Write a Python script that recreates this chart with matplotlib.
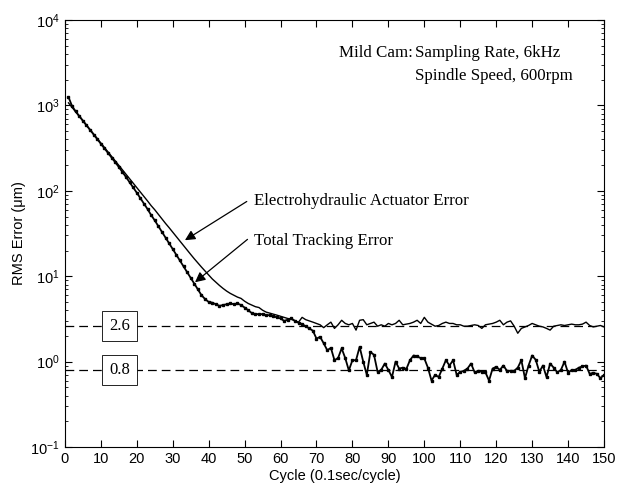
import matplotlib
matplotlib.use("Agg")
import matplotlib.pyplot as plt
import numpy as np

plt.rcParams['font.family'] = 'Liberation Sans'
plt.rcParams['mathtext.fontset'] = 'custom'
plt.rcParams['mathtext.rm'] = 'Liberation Sans'
plt.rcParams['mathtext.it'] = 'Liberation Sans:italic'
plt.rcParams['mathtext.bf'] = 'Liberation Sans:bold'

# cycle numbers 1..150
cycles = list(range(1, 151))

# thin line: electrohydraulic actuator error (um)
actuator_err = [
    1070, 950, 840, 745, 660, 585, 520, 460, 410, 363,
    322, 285, 253, 224, 199, 176, 156, 139, 123, 109,
    97, 86, 76, 67, 60, 53, 47, 41.5, 37, 32.8,
    29, 25.8, 22.8, 20.2, 18, 16, 14.3, 12.8, 11.5, 10.3,
    9.3, 8.5, 7.8, 7.2, 6.7, 6.3, 6.0, 5.7, 5.5, 5.1,
    4.8, 4.6, 4.4, 4.3, 4.0, 3.8, 3.7, 3.6, 3.5, 3.4,
    3.3, 3.2, 3.15, 3.0, 2.9, 3.3, 3.1, 3.0, 2.9, 2.8,
    2.7, 2.5, 2.7, 2.9, 2.45, 2.7, 3.05, 2.8, 2.7, 2.8,
    2.34, 3.05, 3.1, 2.7, 2.8, 2.9, 2.6, 2.7, 2.6, 2.8,
    2.7, 2.8, 3.05, 2.7, 2.75, 2.8, 2.9, 3.05, 2.8, 3.3,
    2.9, 2.75, 2.6, 2.65, 2.8, 2.9, 2.8, 2.8, 2.7, 2.7,
    2.6, 2.6, 2.65, 2.7, 2.65, 2.45, 2.7, 2.75, 2.8, 2.9,
    3.05, 2.7, 2.9, 3.0, 2.6, 2.15, 2.45, 2.55, 2.65, 2.8,
    2.7, 2.6, 2.55, 2.45, 2.34, 2.6, 2.65, 2.7, 2.65, 2.7,
    2.75, 2.7, 2.7, 2.75, 2.9, 2.65, 2.55, 2.6, 2.65, 2.55,
]

# thick line with markers: total tracking error (um)
total_err = [
    1250, 980, 850, 750, 660, 585, 515, 455, 403, 356,
    315, 278, 245, 216, 190, 166, 145, 126, 110, 95,
    82, 71, 61, 52, 45, 38.5, 33, 28.3, 24.3, 20.8,
    17.8, 15.3, 13.1, 11.2, 9.6, 8.2, 7.0, 6.0, 5.4, 5.0,
    4.9, 4.7, 4.5, 4.6, 4.7, 4.8, 4.7, 4.8, 4.6, 4.3,
    4.0, 3.7, 3.6, 3.6, 3.6, 3.5, 3.5, 3.4, 3.3, 3.2,
    3.0, 3.1, 3.2, 3.0, 2.85, 2.75, 2.6, 2.45, 2.3, 1.86,
    1.95, 1.64, 1.36, 1.45, 1.04, 1.1, 1.43, 1.1, 0.79, 1.04,
    1.04, 1.49, 1.0, 0.70, 1.30, 1.2, 0.76, 0.8, 0.95, 0.8,
    0.66, 1.0, 0.83, 0.85, 0.82, 1.04, 1.18, 1.15, 1.1, 1.09,
    0.85, 0.6, 0.7, 0.66, 0.83, 1.04, 0.9, 1.04, 0.70, 0.76,
    0.78, 0.83, 0.95, 0.75, 0.78, 0.76, 0.75, 0.6, 0.83, 0.87,
    0.8, 0.9, 0.78, 0.78, 0.78, 0.85, 1.04, 0.64, 0.9, 1.18,
    1.05, 0.76, 0.9, 0.66, 0.95, 0.85, 0.75, 0.8, 1.0, 0.74,
    0.8, 0.8, 0.85, 0.88, 0.9, 0.72, 0.74, 0.72, 0.64, 0.7,
]

ref_levels = [2.6, 0.8]
ref_labels = ["2.6", "0.8"]

fig = plt.figure(figsize=(6.24, 4.87), dpi=100)
ax = fig.add_axes([0.104, 0.082, 0.864, 0.877])

serif = "Liberation Serif"

for lvl in ref_levels:
    ax.axhline(lvl, color="black", lw=0.9, ls=(0, (7, 4)), zorder=1)
for lvl, lab in zip(ref_levels, ref_labels):
    ax.text(15.2, lvl, lab, family=serif, fontsize=12,
            ha="center", va="center", zorder=3,
            bbox=dict(boxstyle="square,pad=0.42", fc="white", ec="black", lw=0.6))

ax.plot(cycles, actuator_err, color="black", lw=1.0, zorder=2)
ax.plot(cycles, total_err, color="black", lw=1.3, marker="s", ms=1.8, zorder=2)

ax.set_yscale("log")
ax.set_xlim(0, 150)
ax.set_ylim(1e-1, 1e4)
ax.set_xticks(np.arange(0, 151, 10))
ax.tick_params(which="both", direction="in", top=True, right=True, labelsize=10.5)
ax.tick_params(which="major", length=5)
ax.tick_params(which="minor", length=2.5)
ax.set_xlabel("Cycle (0.1sec/cycle)", fontsize=10.5, labelpad=2)
ax.set_ylabel("RMS Error (\u03bcm)", fontsize=10.5, labelpad=3)

ax.text(76.3, 4055, "Mild Cam:", family=serif, fontsize=12.2, va="center")
ax.text(97.5, 4055, "Sampling Rate, 6kHz", family=serif, fontsize=12.2, va="center")
ax.text(97.5, 2180, "Spindle Speed, 600rpm", family=serif, fontsize=12.2, va="center")

# annotation arrows start at the left edge of their labels
arrow = dict(arrowstyle="-|>", color="black", lw=0.9, mutation_scale=15, shrinkA=0, shrinkB=0)
ax.annotate("", xy=(33.4, 26.4), xytext=(50.6, 75), arrowprops=arrow)
ax.text(52.6, 77, "Electrohydraulic Actuator Error", family=serif, fontsize=12.2, va="center")
ax.annotate("", xy=(36.2, 8.5), xytext=(50.8, 27), arrowprops=arrow)
ax.text(52.6, 25.6, "Total Tracking Error", family=serif, fontsize=12.2, va="center")

fig.savefig("out.png", dpi=100)
